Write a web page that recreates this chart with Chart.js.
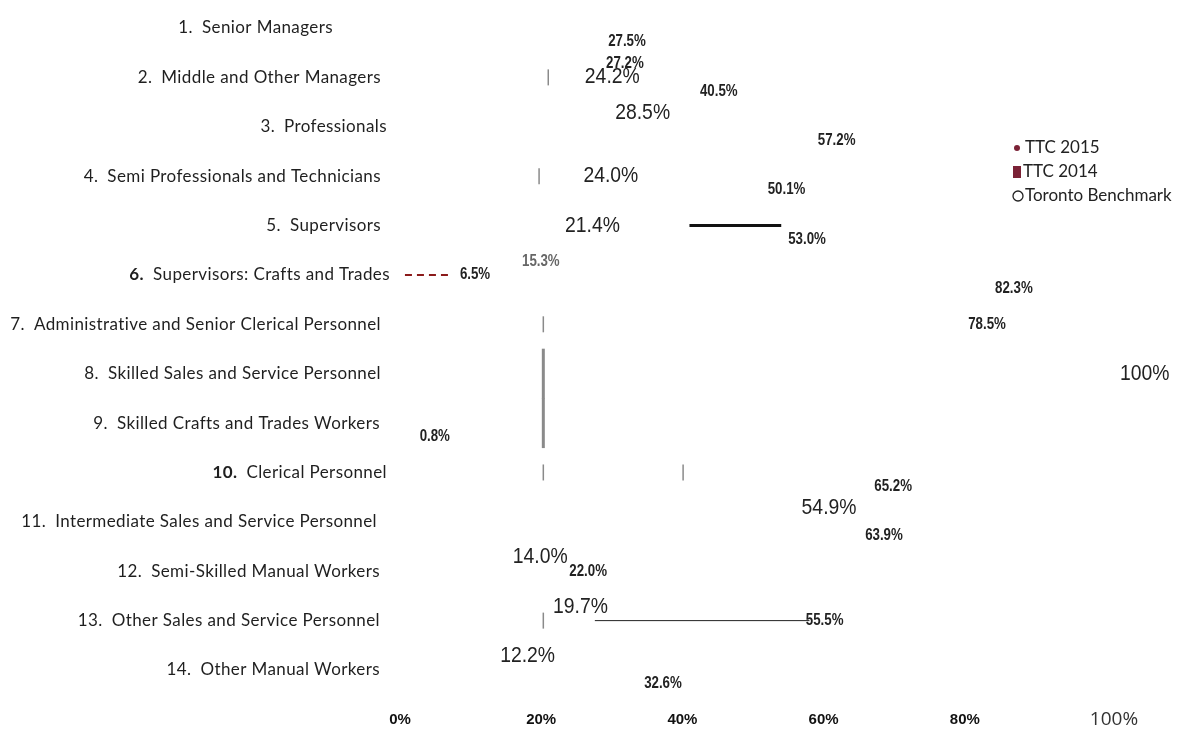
<!DOCTYPE html>
<html>
<head>
<meta charset="utf-8">
<script src="https://cdn.jsdelivr.net/npm/chart.js@4.4.0/dist/chart.umd.min.js"></script>
<style>
  html, body { margin: 0; padding: 0; background: #fff; }
  #wrap { width: 1177px; height: 732px; position: relative; }
</style>
</head>
<body>
<div id="wrap"><canvas id="chart"></canvas></div>
<script>
var categoryNums = ['1.', '2.', '3.', '4.', '5.', '6.', '7.', '8.', '9.', '10.', '11.', '12.', '13.', '14.'];
var categoryNames = [
  'Senior Managers',
  'Middle and Other Managers',
  'Professionals',
  'Semi Professionals and Technicians',
  'Supervisors',
  'Supervisors: Crafts and Trades',
  'Administrative and Senior Clerical Personnel',
  'Skilled Sales and Service Personnel',
  'Skilled Crafts and Trades Workers',
  'Clerical Personnel',
  'Intermediate Sales and Service Personnel',
  'Semi-Skilled Manual Workers',
  'Other Sales and Service Personnel',
  'Other Manual Workers'
];

// values in % (null = nothing shown)
var ttc2015   = [null, 27.2, 28.5, null, null, 15.3, null, null, null, null, 54.9, 14.0, 19.7, 12.2];
var ttc2014   = [null, 24.2, null, 24.0, 21.4, 6.5, 78.5, 100.0, null, null, null, 22.0, 55.5, null];
var benchmark = [27.5, 40.5, 57.2, 50.1, 53.0, 82.3, null, null, 0.8, 65.2, 63.9, null, null, 32.6];

// grey range markers
var markerLow  = [null, 21.0, null, 19.7, null, null, 20.3, 20.3, 20.3, 20.3, null, null, 20.3, null];
var markerHigh = [null, null, null, null, null, null, null, null, null, 40.1, null, null, null, null];

// stray rules: [from, to] on one category
var blackRule = [41, 54];    // row 5
var thinRule = [27.6, 58];   // row 13
var redRule = [0.7, 7];      // row 6

var xTicks = [0, 20, 40, 60, 80, 100];
var legendNames = ['TTC 2015', 'TTC 2014', 'Toronto Benchmark'];

var maroon = '#7b2236';
var sans = '"Liberation Sans", Arial, sans-serif';
var catFont = '17px Lato, "Open Sans", sans-serif';
// right edge of each category label
var labelRight = [333, 381, 387, 381, 381, 390, 381, 381, 380, 387, 377, 380, 380, 380];

function pts(arr) {
  var out = [];
  arr.forEach(function (v, i) { if (v !== null) out.push({ x: v, y: categoryNames[i] }); });
  return out;
}
function rule(r, row) {
  return [{ x: r[0], y: categoryNames[row] }, { x: r[1], y: categoryNames[row] }];
}
function fmt(v) {
  return (v === 100 ? '100' : v.toFixed(1)) + '%';
}

var bigLabel = [
  [0, 0, 1, 0, 0, 0, 0, 0, 0, 0, 1, 1, 1, 1],
  [0, 1, 0, 1, 1, 0, 0, 1, 0, 0, 0, 0, 0, 0],
  [0, 0, 0, 0, 0, 0, 0, 0, 0, 0, 0, 0, 0, 0]
];

// narrow text: squeeze horizontally
function narrowText(ctx, text, x, y, sx) {
  ctx.save();
  ctx.translate(x, y);
  ctx.scale(sx, 1);
  ctx.fillText(text, 0, 0);
  ctx.restore();
}

var labelPlugin = {
  id: 'labels',
  afterDraw: function (chart) {
    var ctx = chart.ctx;
    var x = chart.scales.x, y = chart.scales.y;
    ctx.save();
    ctx.textBaseline = 'middle';
    ctx.textAlign = 'left';

    // value labels at bar ends
    for (var d = 0; d < 3; d++) {
      var meta = chart.getDatasetMeta(d);
      var vals = chart.data.datasets[d].data;
      meta.data.forEach(function (el, i) {
        if (vals[i] === null) return;
        var big = bigLabel[d][i];
        ctx.font = big ? '22px ' + sans : 'bold 16px ' + sans;
        ctx.fillStyle = (d === 0 && i === 5) ? '#666' : '#222';
        narrowText(ctx, fmt(vals[i]), el.x + 14, el.y, big ? 0.88 : 0.83);
      });
    }

    // category labels
    ctx.letterSpacing = '0.4px';
    categoryNames.forEach(function (name, i) {
      var py = y.getPixelForValue(i);
      var right = labelRight[i];
      ctx.font = catFont;
      ctx.fillStyle = '#1f1f1f';
      ctx.textAlign = 'right';
      ctx.fillText(name, right, py);
      var w = ctx.measureText(name).width;
      var isBold = (i === 5 || i === 9);
      ctx.font = (isBold ? 'bold ' : '') + catFont;
      ctx.fillText(categoryNums[i], right - w - 9, py);
    });
    ctx.letterSpacing = '0px';

    // x axis labels
    xTicks.forEach(function (t) {
      var px = x.getPixelForValue(t);
      ctx.textAlign = 'center';
      if (t === 100) {
        ctx.font = '19px "Open Sans", sans-serif';
        ctx.fillStyle = '#333';
        ctx.fillText(t + '%', px + 8, 720);
      } else {
        ctx.font = 'bold 15px ' + sans;
        ctx.fillStyle = '#111';
        ctx.fillText(t + '%', px, 720);
      }
    });

    // legend
    var lx = 1013, ly = [148, 172, 196];
    ctx.textAlign = 'left';
    ctx.font = catFont;
    ctx.fillStyle = maroon;
    ctx.beginPath(); ctx.arc(lx + 4, ly[0], 3, 0, Math.PI * 2); ctx.fill();
    ctx.fillRect(lx, ly[1] - 6, 8, 12);
    ctx.strokeStyle = '#222'; ctx.lineWidth = 1.3;
    ctx.beginPath(); ctx.arc(lx + 5, ly[2], 5, 0, Math.PI * 2); ctx.stroke();
    ctx.fillStyle = '#222';
    ctx.fillText(legendNames[0], lx + 12, ly[0]);
    ctx.fillText(legendNames[1], lx + 10, ly[1]);
    ctx.fillText(legendNames[2], lx + 12, ly[2]);
    ctx.restore();
  }
};

var clear = 'rgba(0,0,0,0)';
var ctx = document.getElementById('chart').getContext('2d');
var myChart = new Chart(ctx, {
  type: 'bar',
  data: {
    labels: categoryNames,
    datasets: [
      { label: legendNames[0], data: ttc2015, backgroundColor: clear, indexAxis: 'y' },
      { label: legendNames[1], data: ttc2014, backgroundColor: clear, indexAxis: 'y' },
      { label: legendNames[2], data: benchmark, backgroundColor: clear, indexAxis: 'y' },
      {
        type: 'scatter', label: 'range', data: pts(markerLow).concat(pts(markerHigh)), indexAxis: 'y',
        pointStyle: 'line', rotation: 90, borderColor: '#8a8a8a',
        pointRadius: function (c) { var r = c.raw && c.raw.y; return (r === categoryNames[7] || r === categoryNames[8]) ? 25 : 8; },
        borderWidth: function (c) { var r = c.raw && c.raw.y; return (r === categoryNames[7] || r === categoryNames[8]) ? 3 : 1.5; },
        clip: false
      },
      { type: 'line', data: rule(blackRule, 4), indexAxis: 'y', borderColor: '#111', borderWidth: 3, pointRadius: 0, clip: false },
      { type: 'line', data: rule(thinRule, 12), indexAxis: 'y', borderColor: '#222', borderWidth: 1, pointRadius: 0, clip: false },
      { type: 'line', data: rule(redRule, 5), indexAxis: 'y', borderColor: '#8b1a1a', borderWidth: 2, borderDash: [7, 5], pointRadius: 0, clip: false }
    ]
  },
  options: {
    indexAxis: 'y',
    responsive: true,
    maintainAspectRatio: false,
    animation: false,
    layout: { padding: { left: 400, right: 71, top: 18, bottom: 62 } },
    datasets: { bar: { categoryPercentage: 0.84, barPercentage: 1 } },
    scales: {
      x: { type: 'linear', min: 0, max: 100, display: false },
      y: { type: 'category', offset: false, display: false }
    },
    plugins: { legend: { display: false }, tooltip: { enabled: false } }
  },
  plugins: [labelPlugin]
});
</script>
</body>
</html>
